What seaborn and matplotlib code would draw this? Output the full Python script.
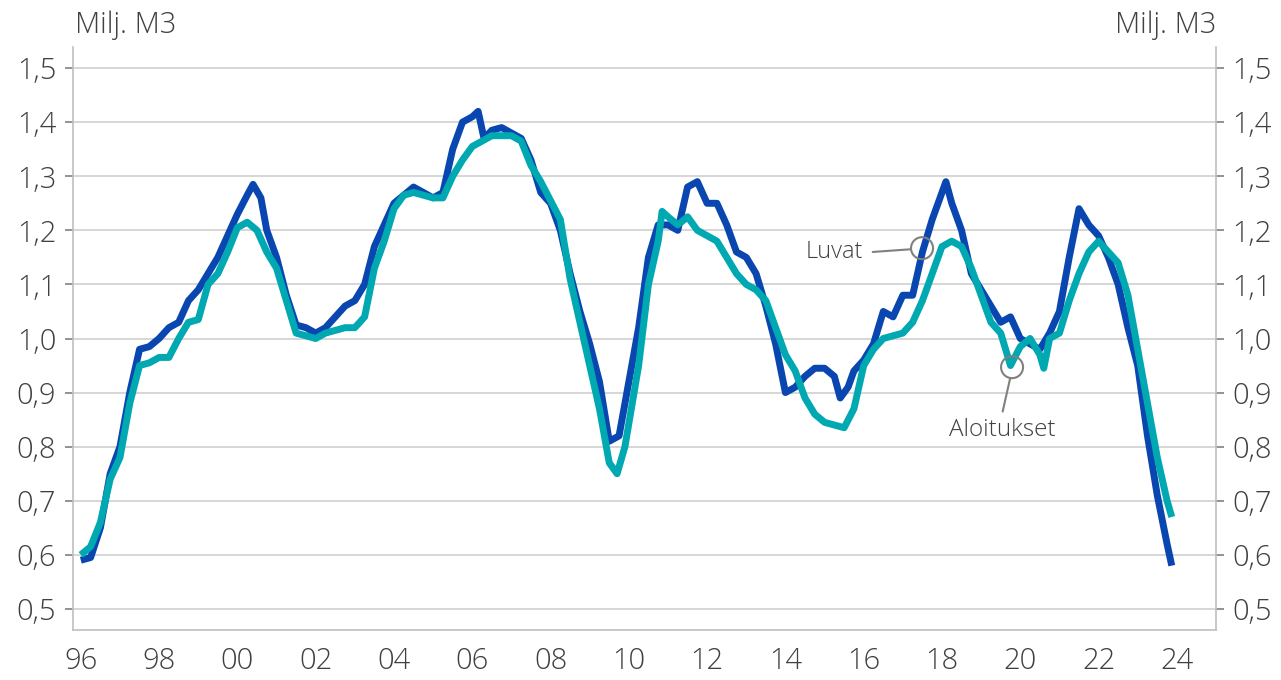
import matplotlib
matplotlib.use("Agg")
import matplotlib.pyplot as plt
import seaborn as sns
import pandas as pd
from matplotlib.patches import Ellipse
from matplotlib.ticker import FuncFormatter

# Rakennuslupien (Luvat) ja aloitusten (Aloitukset) kuutiot, 12 kk liukuva summa, milj. m3
luvat_years = [1996.0, 1996.25, 1996.5, 1996.75, 1997.0, 1997.25, 1997.5, 1997.75,
               1998.0, 1998.25, 1998.5, 1998.75, 1999.0, 1999.25, 1999.5, 1999.75,
               2000.0, 2000.25, 2000.4, 2000.6, 2000.75, 2001.0, 2001.25, 2001.5, 2001.75,
               2002.0, 2002.25, 2002.5, 2002.75, 2003.0, 2003.25, 2003.5, 2003.75,
               2004.0, 2004.25, 2004.5, 2004.75, 2005.0, 2005.25, 2005.5, 2005.75,
               2006.0, 2006.15, 2006.3, 2006.5, 2006.75, 2007.0, 2007.25, 2007.5, 2007.75,
               2008.0, 2008.25, 2008.5, 2008.75, 2009.0, 2009.25, 2009.5, 2009.75,
               2010.0, 2010.25, 2010.5, 2010.75, 2011.0, 2011.25, 2011.5, 2011.75,
               2012.0, 2012.25, 2012.5, 2012.75, 2013.0, 2013.25, 2013.5, 2013.75,
               2014.0, 2014.25, 2014.5, 2014.75, 2015.0, 2015.25, 2015.4, 2015.6, 2015.75,
               2016.0, 2016.25, 2016.5, 2016.75, 2017.0, 2017.25, 2017.5, 2017.75,
               2018.0, 2018.1, 2018.25, 2018.5, 2018.75, 2019.0, 2019.25, 2019.5, 2019.75,
               2020.0, 2020.25, 2020.5, 2020.75, 2021.0, 2021.25, 2021.5, 2021.75,
               2022.0, 2022.25, 2022.5, 2022.75, 2023.0, 2023.25, 2023.5, 2023.75, 2023.87]
luvat_values = [0.59, 0.595, 0.65, 0.75, 0.80, 0.90, 0.98, 0.985,
                1.00, 1.02, 1.03, 1.07, 1.09, 1.12, 1.15, 1.19,
                1.23, 1.265, 1.285, 1.26, 1.20, 1.15, 1.08, 1.025, 1.02,
                1.01, 1.02, 1.04, 1.06, 1.07, 1.10, 1.17, 1.21,
                1.25, 1.265, 1.28, 1.27, 1.26, 1.27, 1.35, 1.40,
                1.41, 1.42, 1.37, 1.385, 1.39, 1.38, 1.37, 1.33, 1.27,
                1.25, 1.20, 1.12, 1.05, 0.99, 0.92, 0.81, 0.82,
                0.92, 1.02, 1.15, 1.21, 1.21, 1.20, 1.28, 1.29,
                1.25, 1.25, 1.21, 1.16, 1.15, 1.12, 1.06, 0.99,
                0.90, 0.91, 0.93, 0.945, 0.945, 0.93, 0.89, 0.91, 0.94,
                0.96, 0.99, 1.05, 1.04, 1.08, 1.08, 1.16, 1.22,
                1.27, 1.29, 1.25, 1.20, 1.12, 1.09, 1.06, 1.03, 1.04,
                1.00, 0.99, 0.98, 1.01, 1.05, 1.15, 1.24, 1.21,
                1.19, 1.15, 1.10, 1.02, 0.95, 0.82, 0.71, 0.62, 0.58]

aloitukset_years = [1996.0, 1996.25, 1996.5, 1996.75, 1997.0, 1997.25, 1997.5, 1997.75,
                    1998.0, 1998.25, 1998.5, 1998.75, 1999.0, 1999.25, 1999.5, 1999.75,
                    2000.0, 2000.25, 2000.5, 2000.75, 2001.0, 2001.25, 2001.5, 2001.75,
                    2002.0, 2002.25, 2002.5, 2002.75, 2003.0, 2003.25, 2003.5, 2003.75,
                    2004.0, 2004.25, 2004.5, 2004.75, 2005.0, 2005.25, 2005.5, 2005.75,
                    2006.0, 2006.25, 2006.5, 2006.75, 2007.0, 2007.25, 2007.5, 2007.75,
                    2008.0, 2008.25, 2008.5, 2008.75, 2009.0, 2009.25, 2009.5, 2009.7,
                    2009.9, 2010.25, 2010.5, 2010.75, 2010.85, 2011.0, 2011.25, 2011.5, 2011.75,
                    2012.0, 2012.25, 2012.5, 2012.75, 2013.0, 2013.25, 2013.5, 2013.75,
                    2014.0, 2014.25, 2014.5, 2014.75, 2015.0, 2015.25, 2015.5, 2015.75,
                    2016.0, 2016.25, 2016.5, 2016.75, 2017.0, 2017.25, 2017.5, 2017.75,
                    2018.0, 2018.25, 2018.5, 2018.75, 2019.0, 2019.25, 2019.5, 2019.75,
                    2020.0, 2020.25, 2020.5, 2020.6, 2020.75, 2021.0, 2021.25, 2021.5, 2021.75,
                    2022.0, 2022.25, 2022.5, 2022.75, 2023.0, 2023.25, 2023.5, 2023.75, 2023.87]
aloitukset_values = [0.60, 0.615, 0.66, 0.74, 0.78, 0.88, 0.95, 0.955,
                     0.965, 0.965, 1.00, 1.03, 1.035, 1.10, 1.12, 1.16,
                     1.205, 1.215, 1.20, 1.16, 1.13, 1.07, 1.01, 1.005,
                     1.00, 1.01, 1.015, 1.02, 1.02, 1.04, 1.13, 1.18,
                     1.24, 1.265, 1.27, 1.265, 1.26, 1.26, 1.30, 1.33,
                     1.355, 1.365, 1.375, 1.375, 1.375, 1.365, 1.32, 1.29,
                     1.255, 1.22, 1.11, 1.03, 0.95, 0.87, 0.77, 0.75,
                     0.80, 0.95, 1.10, 1.18, 1.235, 1.225, 1.21, 1.225, 1.20,
                     1.19, 1.18, 1.15, 1.12, 1.10, 1.09, 1.07, 1.02,
                     0.97, 0.94, 0.89, 0.86, 0.845, 0.84, 0.835, 0.87,
                     0.95, 0.98, 1.00, 1.005, 1.01, 1.03, 1.07, 1.12,
                     1.17, 1.18, 1.17, 1.13, 1.08, 1.03, 1.01, 0.95,
                     0.985, 1.00, 0.97, 0.945, 1.00, 1.01, 1.07, 1.12, 1.16,
                     1.18, 1.16, 1.14, 1.08, 0.98, 0.88, 0.78, 0.70, 0.67]

xtick_years = list(range(1996, 2025, 2))
ytick_values = [0.5, 0.6, 0.7, 0.8, 0.9, 1.0, 1.1, 1.2, 1.3, 1.4, 1.5]

BLUE = "#0A46AF"
TEAL = "#00A8B2"
TEXT = "#404040"
GRAY = "#BFBFBF"

sns.set_style("white")
plt.rcParams["font.family"] = ["Open Sans", "DejaVu Sans"]
plt.rcParams["font.weight"] = "light"

fig = plt.figure(figsize=(12.81, 6.8), dpi=100)
ax = fig.add_axes([73 / 1281, 50 / 680, (1216 - 73) / 1281, (630 - 47) / 680])

df_l = pd.DataFrame({"vuosi": luvat_years, "arvo": luvat_values})
df_a = pd.DataFrame({"vuosi": aloitukset_years, "arvo": aloitukset_values})
sns.lineplot(data=df_l, x="vuosi", y="arvo", color=BLUE, linewidth=5.0, ax=ax,
             solid_capstyle="butt", zorder=3)
sns.lineplot(data=df_a, x="vuosi", y="arvo", color=TEAL, linewidth=5.0, ax=ax,
             solid_capstyle="butt", zorder=4)

ax.set_xlim(1995.8, 2025.0)
ax.set_ylim(0.461, 1.539)
ax.set_xticks(xtick_years)
ax.set_xticklabels([f"{y % 100:02d}" for y in xtick_years])
ax.set_yticks(ytick_values)
ax.yaxis.set_major_formatter(FuncFormatter(lambda v, p: f"{v:.1f}".replace(".", ",")))
ax.set_xlabel("")
ax.set_ylabel("")

ax.grid(axis="y", color="#D3D3D3", linewidth=1.3)
ax.grid(axis="x", visible=False)
ax.set_axisbelow(True)
for side in ["left", "right", "bottom"]:
    ax.spines[side].set_color(GRAY)
    ax.spines[side].set_linewidth(1.2)
ax.spines["top"].set_visible(False)

ax.tick_params(axis="y", which="both", left=True, right=True, labelleft=True, labelright=True,
               direction="out", length=6, width=1.2, color="#808080", labelsize=21,
               labelcolor=TEXT, pad=6)
ax.tick_params(axis="x", direction="out", length=8, width=1.5, color="#606060",
               labelsize=21, labelcolor=TEXT, pad=4)

fig.text(75 / 1281, 1 - 25 / 680, "Milj. M3", ha="left", va="center", fontsize=21, color=TEXT)
fig.text(1216 / 1281, 1 - 25 / 680, "Milj. M3", ha="right", va="center", fontsize=21, color=TEXT)

# Selitteet ympyröillä
def marker_circle(x, y):
    # ympyrä pikseleinä: 22 px halkaisija
    w = 22 / 39.14
    h = 22 / 541
    ax.add_patch(Ellipse((x, y), w, h, fill=False, edgecolor="#808080", linewidth=1.5, zorder=5))

marker_circle(2017.49, 1.167)
ax.plot([2016.23, 2017.2], [1.160, 1.165], color="#808080", linewidth=1.5, zorder=5)
ax.text(2015.98, 1.160, "Luvat", ha="right", va="center", fontsize=17, color=TEXT)

marker_circle(2019.79, 0.947)
ax.plot([2019.74, 2019.55], [0.926, 0.865], color="#808080", linewidth=1.5, zorder=5)
ax.text(2019.55, 0.83, "Aloitukset", ha="center", va="center", fontsize=17.5, color=TEXT)

fig.savefig("out.png", dpi=100)
